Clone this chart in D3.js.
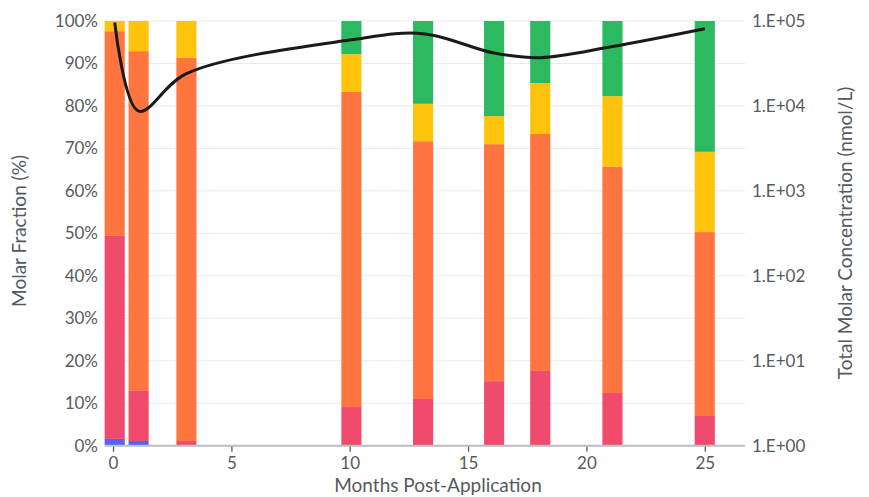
<!DOCTYPE html>
<html>
<head>
<meta charset="utf-8">
<script src="https://cdn.jsdelivr.net/npm/d3@7"></script>
<style>
  html, body { margin: 0; padding: 0; background: #fff; }
  svg { display: block; font-family: Lato, "Noto Sans", sans-serif; }
</style>
</head>
<body>
<svg id="chart" width="869" height="497"></svg>
<script>
// ---- data ----
const months = [0.07, 1.08, 3.1, 10.07, 13.1, 16.1, 18.05, 21.1, 25.0];
const seriesNames = ["blue", "pink", "orange", "yellow", "green"];
const blue   = [1.6, 1.1, 0, 0, 0, 0, 0, 0, 0];
const pink   = [47.8, 11.8, 1.1, 9.1, 11.0, 15.2, 17.6, 12.4, 7.0];
const orange = [48.2, 80.0, 90.2, 74.2, 60.7, 55.8, 55.8, 53.3, 43.3];
const yellow = [2.4, 7.1, 8.7, 8.9, 8.8, 6.6, 12.0, 16.6, 18.9];
const green  = [0, 0, 0, 7.8, 19.5, 22.4, 14.6, 17.7, 30.8];
const totalConc = [96000, 8700, 24000, 60000, 71000, 42000, 37000, 50000, 81000];
const xTicks = [0, 5, 10, 15, 20, 25];
const yTicks = [0, 10, 20, 30, 40, 50, 60, 70, 80, 90, 100];
const rTicks = [1, 10, 100, 1000, 10000, 100000];
const colors = {blue: "#5563F5", pink: "#F04B6D", orange: "#FF7540", yellow: "#FFC30B", green: "#2CB960"};

// ---- layout ----
const svg = d3.select("#chart");
const pL = 105, pR = 745, pT = 21, pB = 445.7;
const textColor = "#555a60";
const fs = 17, tfs = 19;

const x = d3.scaleLinear().domain([-0.34, 26.7]).range([pL, pR]);
const y = d3.scaleLinear().domain([0, 100]).range([pB, pT]);
const yR = d3.scaleLog().domain([1, 100000]).range([pB, pT]);

// gridlines
svg.append("g").selectAll("line").data(yTicks.filter(d => d > 0)).join("line")
  .attr("x1", pL).attr("x2", pR)
  .attr("y1", d => y(d)).attr("y2", d => y(d))
  .attr("stroke", "#ebebeb").attr("stroke-width", 1);

// stacked bars
const table = months.map((m, i) => ({month: m, blue: blue[i], pink: pink[i], orange: orange[i], yellow: yellow[i], green: green[i]}));
const stack = d3.stack().keys(seriesNames)(table);
const barW = x(0.85) - x(0);
svg.append("g").selectAll("g").data(stack).join("g")
  .attr("fill", d => colors[d.key])
  .selectAll("rect").data(d => d).join("rect")
  .attr("x", d => x(d.data.month) - barW / 2)
  .attr("width", barW)
  .attr("y", d => y(Math.min(100, d[1])))
  .attr("height", d => Math.max(0, y(d[0]) - y(Math.min(100, d[1]))));

// line
const line = d3.line()
  .x((d, i) => x(months[i]))
  .y(d => yR(d))
  .curve(d3.curveCatmullRom.alpha(0.5));
svg.append("path").datum(totalConc)
  .attr("d", line).attr("fill", "none")
  .attr("stroke", "#1a1a1a").attr("stroke-width", 3);

// x axis
const xAxis = svg.append("g").attr("transform", `translate(0,${pB})`)
  .call(d3.axisBottom(x).tickValues(xTicks).tickSize(6).tickPadding(5).tickFormat(d3.format("d")));
xAxis.select(".domain").remove();
xAxis.append("line").attr("x1", pL).attr("x2", pR).attr("y1", 0).attr("y2", 0)
  .attr("stroke", "#bcbcc2").attr("stroke-width", 2);
xAxis.selectAll(".tick line").attr("stroke", "#555a60").attr("stroke-width", 1.3);
xAxis.selectAll("text").attr("fill", textColor).style("font-size", fs + "px").style("font-family", "Lato");

// left axis
const yAxis = svg.append("g").attr("transform", `translate(${pL},0)`)
  .call(d3.axisLeft(y).tickValues(yTicks).tickSize(0).tickPadding(7).tickFormat(d => d + "%"));
yAxis.select(".domain").remove();
yAxis.selectAll("text").attr("fill", textColor).style("font-size", fs + "px").style("font-family", "Lato");

// right axis
const rAxis = svg.append("g").attr("transform", `translate(${pR},0)`)
  .call(d3.axisRight(yR).tickValues(rTicks).tickSize(0).tickPadding(7)
    .tickFormat(d => "1.E+" + String(Math.round(Math.log10(d))).padStart(2, "0")));
rAxis.select(".domain").remove();
rAxis.selectAll("text").attr("fill", textColor).style("font-size", fs + "px").style("font-family", "Lato");

// titles
svg.append("text").attr("x", 438).attr("y", 492).attr("text-anchor", "middle")
  .attr("fill", textColor).style("font-size", tfs + "px").text("Months Post-Application");
svg.append("text").attr("transform", `translate(26,${231}) rotate(-90)`)
  .attr("text-anchor", "middle").attr("fill", textColor).style("font-size", tfs + "px")
  .text("Molar Fraction (%)");
svg.append("text").attr("transform", `translate(852,${233}) rotate(-90)`)
  .attr("text-anchor", "middle").attr("fill", textColor).style("font-size", tfs + "px")
  .text("Total Molar Concentration (nmol/L)");
</script>
</body>
</html>
